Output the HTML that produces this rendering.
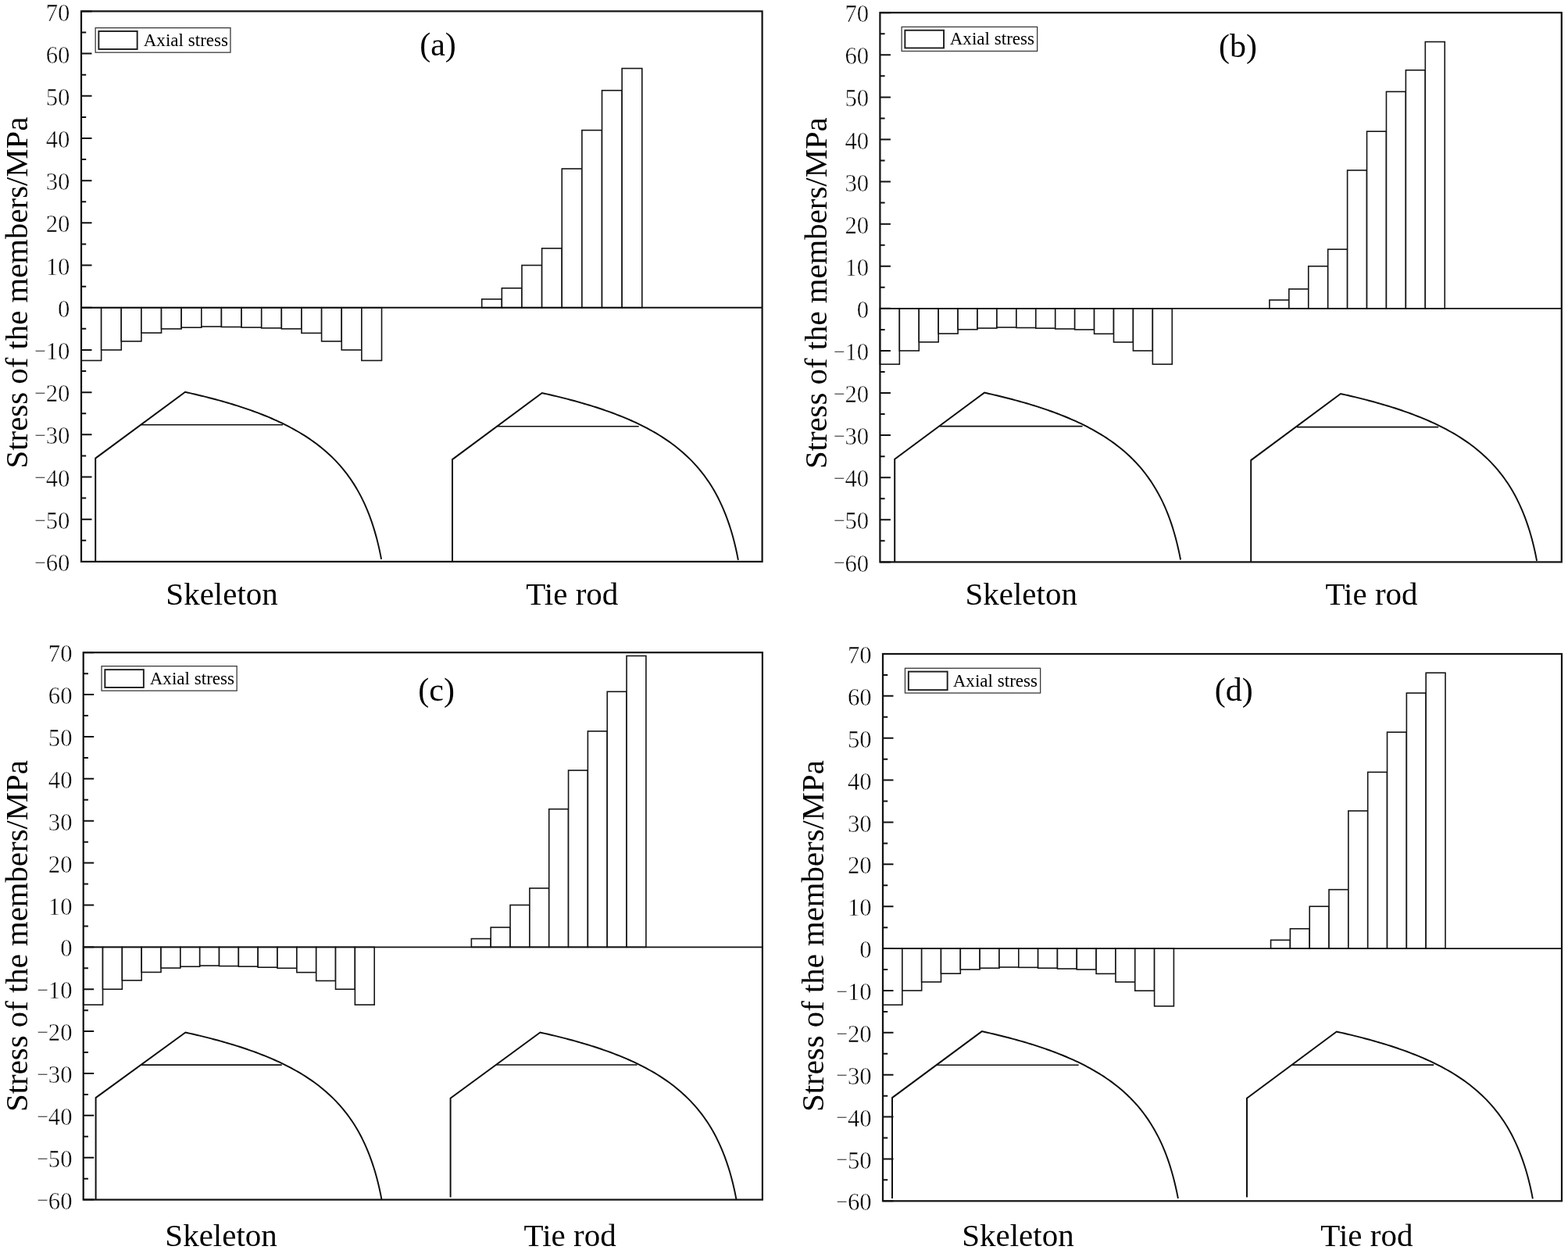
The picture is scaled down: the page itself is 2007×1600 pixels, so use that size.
<!DOCTYPE html>
<html><head><meta charset="utf-8"><title>Stress of the members</title>
<style>html,body{margin:0;padding:0;background:#fff;}svg{display:block;}text{font-family:"Liberation Serif", "Times New Roman", serif;fill:#000;}</style></head><body>
<svg width="2007" height="1600" viewBox="0 0 2007 1600">
<rect x="0" y="0" width="2007" height="1600" fill="#fff"/>
<g id="panel-a"><g fill="#fff" stroke="#151515" stroke-width="1.6"><rect x="104" y="393.75" width="25.64" height="67.74"/><rect x="129.64" y="393.75" width="25.64" height="54.19"/><rect x="155.27" y="393.75" width="25.64" height="43.08"/><rect x="180.91" y="393.75" width="25.64" height="32.35"/><rect x="206.54" y="393.75" width="25.64" height="27.2"/><rect x="232.18" y="393.75" width="25.64" height="25.47"/><rect x="257.81" y="393.75" width="25.64" height="24.28"/><rect x="283.45" y="393.75" width="25.64" height="24.77"/><rect x="309.08" y="393.75" width="25.64" height="25.36"/><rect x="334.72" y="393.75" width="25.64" height="26.17"/><rect x="360.35" y="393.75" width="25.64" height="27.15"/><rect x="385.99" y="393.75" width="25.64" height="32.62"/><rect x="411.62" y="393.75" width="25.64" height="43.08"/><rect x="437.26" y="393.75" width="25.64" height="54.19"/><rect x="462.89" y="393.75" width="25.64" height="67.74"/><rect x="616.71" y="382.91" width="25.64" height="10.84"/><rect x="642.34" y="368.82" width="25.64" height="24.93"/><rect x="667.98" y="339.55" width="25.64" height="54.19"/><rect x="693.61" y="317.88" width="25.64" height="75.87"/><rect x="719.25" y="216" width="25.64" height="177.75"/><rect x="744.88" y="166.68" width="25.64" height="227.07"/><rect x="770.52" y="115.74" width="25.64" height="278.01"/><rect x="796.15" y="87.56" width="25.64" height="306.19"/></g><g fill="none" stroke="#0d0d0d" stroke-width="1.95" stroke-linejoin="miter"><path d="M122.2,719 L122.2,586.6 L237,501.8 L240,502.49 L243,503.16 L246,503.84 L249,504.54 L252,505.24 L255,505.96 L258,506.68 L261,507.42 L264,508.17 L267,508.93 L270,509.71 L273,510.49 L276,511.29 L279,512.1 L282,512.93 L285,513.77 L288,514.63 L291,515.5 L294,516.38 L297,517.29 L300,518.2 L303,519.14 L306,520.1 L309,521.07 L312,522.06 L315,523.07 L318,524.1 L321,525.16 L324,526.23 L327,527.33 L330,528.45 L333,529.6 L336,530.77 L339,531.97 L342,533.19 L345,534.45 L348,535.73 L351,537.04 L354,538.39 L357,539.77 L360,541.19 L363,542.64 L366,544.13 L369,545.67 L372,547.24 L375,548.86 L378,550.53 L381,552.24 L384,554.01 L387,555.83 L390,557.7 L393,559.64 L396,561.64 L399,563.71 L402,565.85 L405,568.06 L408,570.36 L411,572.74 L414,575.21 L417,577.78 L420,580.45 L423,583.24 L426,586.14 L429,589.18 L432,592.35 L435,595.68 L438,599.17 L441,602.84 L444,606.71 L447,610.8 L450,615.12 L451.98,618.12 L453.88,621.12 L455.71,624.12 L457.47,627.12 L459.16,630.12 L460.78,633.12 L462.35,636.12 L463.85,639.12 L465.3,642.12 L466.7,645.12 L468.04,648.12 L469.33,651.12 L470.58,654.12 L471.78,657.12 L472.93,660.12 L474.04,663.12 L475.12,666.12 L476.15,669.12 L477.14,672.12 L478.1,675.12 L479.03,678.12 L479.92,681.12 L480.77,684.12 L481.6,687.12 L482.4,690.12 L483.16,693.12 L483.9,696.12 L484.61,699.12 L485.3,702.12 L485.96,705.12 L486.59,708.12 L487.2,711.12 L487.79,714.12 L488.09,715.7"/><path d="M180.9,543.8 H362" stroke-width="1.6"/><path d="M579,719 L579,588.1 L693.8,503 L696.8,503.69 L699.8,504.36 L702.8,505.04 L705.8,505.74 L708.8,506.44 L711.8,507.16 L714.8,507.88 L717.8,508.62 L720.8,509.37 L723.8,510.13 L726.8,510.91 L729.8,511.69 L732.8,512.49 L735.8,513.3 L738.8,514.13 L741.8,514.97 L744.8,515.83 L747.8,516.7 L750.8,517.58 L753.8,518.49 L756.8,519.4 L759.8,520.34 L762.8,521.3 L765.8,522.27 L768.8,523.26 L771.8,524.27 L774.8,525.3 L777.8,526.36 L780.8,527.43 L783.8,528.53 L786.8,529.65 L789.8,530.8 L792.8,531.97 L795.8,533.17 L798.8,534.39 L801.8,535.65 L804.8,536.93 L807.8,538.24 L810.8,539.59 L813.8,540.97 L816.8,542.39 L819.8,543.84 L822.8,545.33 L825.8,546.87 L828.8,548.44 L831.8,550.06 L834.8,551.73 L837.8,553.44 L840.8,555.21 L843.8,557.03 L846.8,558.9 L849.8,560.84 L852.8,562.84 L855.8,564.91 L858.8,567.05 L861.8,569.26 L864.8,571.56 L867.8,573.94 L870.8,576.41 L873.8,578.98 L876.8,581.65 L879.8,584.44 L882.8,587.34 L885.8,590.38 L888.8,593.55 L891.8,596.88 L894.8,600.37 L897.8,604.04 L900.8,607.91 L903.8,612 L906.8,616.32 L908.78,619.32 L910.68,622.32 L912.51,625.32 L914.27,628.32 L915.96,631.32 L917.58,634.32 L919.15,637.32 L920.65,640.32 L922.1,643.32 L923.5,646.32 L924.84,649.32 L926.13,652.32 L927.38,655.32 L928.58,658.32 L929.73,661.32 L930.84,664.32 L931.92,667.32 L932.95,670.32 L933.94,673.32 L934.9,676.32 L935.83,679.32 L936.72,682.32 L937.57,685.32 L938.4,688.32 L939.2,691.32 L939.96,694.32 L940.7,697.32 L941.41,700.32 L942.1,703.32 L942.76,706.32 L943.39,709.32 L944,712.32 L944.59,715.32 L944.89,716.9"/><path d="M636.9,545.8 H817.7" stroke-width="1.6"/></g><path d="M104,393.75 H975.6" stroke="#111" stroke-width="1.8" fill="none"/><path d="M104,718.9 h13.5 M104,691.8 h6.2 M104,664.71 h13.5 M104,637.61 h6.2 M104,610.52 h13.5 M104,583.42 h6.2 M104,556.32 h13.5 M104,529.23 h6.2 M104,502.13 h13.5 M104,475.03 h6.2 M104,447.94 h13.5 M104,420.84 h6.2 M104,393.75 h13.5 M104,366.65 h6.2 M104,339.55 h13.5 M104,312.46 h6.2 M104,285.36 h13.5 M104,258.27 h6.2 M104,231.17 h13.5 M104,204.07 h6.2 M104,176.98 h13.5 M104,149.88 h6.2 M104,122.78 h13.5 M104,95.69 h6.2 M104,68.59 h13.5 M104,41.5 h6.2 M104,14.4 h13.5" stroke="#111" stroke-width="2" fill="none"/><rect x="104" y="14.4" width="871.6" height="704.5" fill="none" stroke="#111" stroke-width="2.2"/><g font-size="31" stroke="#fff" stroke-width="0.45"><text transform="translate(89.4,731) scale(0.99,1)" text-anchor="end"><tspan font-size="26.5" dy="-2.3">−</tspan><tspan dx="-0.4" dy="2.3">60</tspan></text><text transform="translate(89.4,676.81) scale(0.99,1)" text-anchor="end"><tspan font-size="26.5" dy="-2.3">−</tspan><tspan dx="-0.4" dy="2.3">50</tspan></text><text transform="translate(89.4,622.62) scale(0.99,1)" text-anchor="end"><tspan font-size="26.5" dy="-2.3">−</tspan><tspan dx="-0.4" dy="2.3">40</tspan></text><text transform="translate(89.4,568.42) scale(0.99,1)" text-anchor="end"><tspan font-size="26.5" dy="-2.3">−</tspan><tspan dx="-0.4" dy="2.3">30</tspan></text><text transform="translate(89.4,514.23) scale(0.99,1)" text-anchor="end"><tspan font-size="26.5" dy="-2.3">−</tspan><tspan dx="-0.4" dy="2.3">20</tspan></text><text transform="translate(89.4,460.04) scale(0.99,1)" text-anchor="end"><tspan font-size="26.5" dy="-2.3">−</tspan><tspan dx="-0.4" dy="2.3">10</tspan></text><text transform="translate(89.4,405.85) scale(0.99,1)" text-anchor="end">0</text><text transform="translate(89.4,351.65) scale(0.99,1)" text-anchor="end">10</text><text transform="translate(89.4,297.46) scale(0.99,1)" text-anchor="end">20</text><text transform="translate(89.4,243.27) scale(0.99,1)" text-anchor="end">30</text><text transform="translate(89.4,189.08) scale(0.99,1)" text-anchor="end">40</text><text transform="translate(89.4,134.88) scale(0.99,1)" text-anchor="end">50</text><text transform="translate(89.4,80.69) scale(0.99,1)" text-anchor="end">60</text><text transform="translate(89.4,26.5) scale(0.99,1)" text-anchor="end">70</text></g><rect x="122.15" y="35.65" width="172.8" height="31.5" fill="#fff" stroke="#3a3a3a" stroke-width="1.3"/><rect x="126.35" y="39.95" width="49.3" height="23" fill="#fff" stroke="#1c1c1c" stroke-width="1.9"/><text x="183.7" y="59.4" font-size="23.1">Axial stress</text><text x="560.5" y="71" font-size="42" text-anchor="middle">(a)</text><text x="284.1" y="774.1" font-size="41" text-anchor="middle">Skeleton</text><text x="732.3" y="773.9" font-size="41" text-anchor="middle">Tie rod</text><text transform="translate(34.5,374.5) rotate(-90)" x="0" y="0" font-size="40.8" text-anchor="middle">Stress of the members/MPa</text></g>
<g id="panel-b"><g fill="#fff" stroke="#151515" stroke-width="1.6"><rect x="1126.4" y="394.85" width="24.93" height="71.4"/><rect x="1151.33" y="394.85" width="24.93" height="54.09"/><rect x="1176.25" y="394.85" width="24.93" height="43"/><rect x="1201.18" y="394.85" width="24.93" height="32.18"/><rect x="1226.1" y="394.85" width="24.93" height="26.88"/><rect x="1251.03" y="394.85" width="24.93" height="25.21"/><rect x="1275.95" y="394.85" width="24.93" height="24.18"/><rect x="1300.88" y="394.85" width="24.93" height="24.67"/><rect x="1325.81" y="394.85" width="24.93" height="25.32"/><rect x="1350.73" y="394.85" width="24.93" height="26.13"/><rect x="1375.66" y="394.85" width="24.93" height="27.05"/><rect x="1400.58" y="394.85" width="24.93" height="32.46"/><rect x="1425.51" y="394.85" width="24.93" height="43.11"/><rect x="1450.43" y="394.85" width="24.93" height="54.09"/><rect x="1475.36" y="394.85" width="24.93" height="71.4"/><rect x="1624.91" y="384.03" width="24.93" height="10.82"/><rect x="1649.84" y="369.96" width="24.93" height="24.88"/><rect x="1674.77" y="340.75" width="24.93" height="54.09"/><rect x="1699.69" y="319.12" width="24.93" height="75.73"/><rect x="1724.62" y="217.96" width="24.93" height="176.88"/><rect x="1749.54" y="168.2" width="24.93" height="226.65"/><rect x="1774.47" y="117.35" width="24.93" height="277.49"/><rect x="1799.39" y="89.77" width="24.93" height="305.08"/><rect x="1824.32" y="53.52" width="24.93" height="341.32"/></g><g fill="none" stroke="#0d0d0d" stroke-width="1.95" stroke-linejoin="miter"><path d="M1145.2,719.4 L1145.2,587.7 L1260,502.6 L1263,503.29 L1266,503.96 L1269,504.64 L1272,505.34 L1275,506.04 L1278,506.76 L1281,507.48 L1284,508.22 L1287,508.97 L1290,509.73 L1293,510.51 L1296,511.29 L1299,512.09 L1302,512.9 L1305,513.73 L1308,514.57 L1311,515.43 L1314,516.3 L1317,517.18 L1320,518.09 L1323,519 L1326,519.94 L1329,520.9 L1332,521.87 L1335,522.86 L1338,523.87 L1341,524.9 L1344,525.96 L1347,527.03 L1350,528.13 L1353,529.25 L1356,530.4 L1359,531.57 L1362,532.77 L1365,533.99 L1368,535.25 L1371,536.53 L1374,537.84 L1377,539.19 L1380,540.57 L1383,541.99 L1386,543.44 L1389,544.93 L1392,546.47 L1395,548.04 L1398,549.66 L1401,551.33 L1404,553.04 L1407,554.81 L1410,556.63 L1413,558.5 L1416,560.44 L1419,562.44 L1422,564.51 L1425,566.65 L1428,568.86 L1431,571.16 L1434,573.54 L1437,576.01 L1440,578.58 L1443,581.25 L1446,584.04 L1449,586.94 L1452,589.98 L1455,593.15 L1458,596.48 L1461,599.97 L1464,603.64 L1467,607.51 L1470,611.6 L1473,615.92 L1474.98,618.92 L1476.88,621.92 L1478.71,624.92 L1480.47,627.92 L1482.16,630.92 L1483.78,633.92 L1485.35,636.92 L1486.85,639.92 L1488.3,642.92 L1489.7,645.92 L1491.04,648.92 L1492.33,651.92 L1493.58,654.92 L1494.78,657.92 L1495.93,660.92 L1497.04,663.92 L1498.12,666.92 L1499.15,669.92 L1500.14,672.92 L1501.1,675.92 L1502.03,678.92 L1502.92,681.92 L1503.77,684.92 L1504.6,687.92 L1505.4,690.92 L1506.16,693.92 L1506.9,696.92 L1507.61,699.92 L1508.3,702.92 L1508.96,705.92 L1509.59,708.92 L1510.2,711.92 L1510.79,714.92 L1511.09,716.5"/><path d="M1203,545.6 H1385.6" stroke-width="1.6"/><path d="M1601.2,719.4 L1601.2,589.1 L1716,504 L1719,504.69 L1722,505.36 L1725,506.04 L1728,506.74 L1731,507.44 L1734,508.16 L1737,508.88 L1740,509.62 L1743,510.37 L1746,511.13 L1749,511.91 L1752,512.69 L1755,513.49 L1758,514.3 L1761,515.13 L1764,515.97 L1767,516.83 L1770,517.7 L1773,518.58 L1776,519.49 L1779,520.4 L1782,521.34 L1785,522.3 L1788,523.27 L1791,524.26 L1794,525.27 L1797,526.3 L1800,527.36 L1803,528.43 L1806,529.53 L1809,530.65 L1812,531.8 L1815,532.97 L1818,534.17 L1821,535.39 L1824,536.65 L1827,537.93 L1830,539.24 L1833,540.59 L1836,541.97 L1839,543.39 L1842,544.84 L1845,546.33 L1848,547.87 L1851,549.44 L1854,551.06 L1857,552.73 L1860,554.44 L1863,556.21 L1866,558.03 L1869,559.9 L1872,561.84 L1875,563.84 L1878,565.91 L1881,568.05 L1884,570.26 L1887,572.56 L1890,574.94 L1893,577.41 L1896,579.98 L1899,582.65 L1902,585.44 L1905,588.34 L1908,591.38 L1911,594.55 L1914,597.88 L1917,601.37 L1920,605.04 L1923,608.91 L1926,613 L1929,617.32 L1930.98,620.32 L1932.88,623.32 L1934.71,626.32 L1936.47,629.32 L1938.16,632.32 L1939.78,635.32 L1941.35,638.32 L1942.85,641.32 L1944.3,644.32 L1945.7,647.32 L1947.04,650.32 L1948.33,653.32 L1949.58,656.32 L1950.78,659.32 L1951.93,662.32 L1953.04,665.32 L1954.12,668.32 L1955.15,671.32 L1956.14,674.32 L1957.1,677.32 L1958.03,680.32 L1958.92,683.32 L1959.77,686.32 L1960.6,689.32 L1961.4,692.32 L1962.16,695.32 L1962.9,698.32 L1963.61,701.32 L1964.3,704.32 L1964.96,707.32 L1965.59,710.32 L1966.2,713.32 L1966.79,716.32 L1967.09,717.9"/><path d="M1659.9,546.6 H1841.2" stroke-width="1.6"/></g><path d="M1126.4,394.85 H1998.8" stroke="#111" stroke-width="1.8" fill="none"/><path d="M1126.4,719.4 h13.5 M1126.4,692.35 h6.2 M1126.4,665.31 h13.5 M1126.4,638.26 h6.2 M1126.4,611.22 h13.5 M1126.4,584.17 h6.2 M1126.4,557.12 h13.5 M1126.4,530.08 h6.2 M1126.4,503.03 h13.5 M1126.4,475.98 h6.2 M1126.4,448.94 h13.5 M1126.4,421.89 h6.2 M1126.4,394.85 h13.5 M1126.4,367.8 h6.2 M1126.4,340.75 h13.5 M1126.4,313.71 h6.2 M1126.4,286.66 h13.5 M1126.4,259.62 h6.2 M1126.4,232.57 h13.5 M1126.4,205.52 h6.2 M1126.4,178.48 h13.5 M1126.4,151.43 h6.2 M1126.4,124.38 h13.5 M1126.4,97.34 h6.2 M1126.4,70.29 h13.5 M1126.4,43.25 h6.2 M1126.4,16.2 h13.5" stroke="#111" stroke-width="2" fill="none"/><rect x="1126.4" y="16.2" width="872.4" height="703.2" fill="none" stroke="#111" stroke-width="2.2"/><g font-size="31" stroke="#fff" stroke-width="0.45"><text transform="translate(1112.1,731.5) scale(0.99,1)" text-anchor="end"><tspan font-size="26.5" dy="-2.3">−</tspan><tspan dx="-0.4" dy="2.3">60</tspan></text><text transform="translate(1112.1,677.41) scale(0.99,1)" text-anchor="end"><tspan font-size="26.5" dy="-2.3">−</tspan><tspan dx="-0.4" dy="2.3">50</tspan></text><text transform="translate(1112.1,623.32) scale(0.99,1)" text-anchor="end"><tspan font-size="26.5" dy="-2.3">−</tspan><tspan dx="-0.4" dy="2.3">40</tspan></text><text transform="translate(1112.1,569.22) scale(0.99,1)" text-anchor="end"><tspan font-size="26.5" dy="-2.3">−</tspan><tspan dx="-0.4" dy="2.3">30</tspan></text><text transform="translate(1112.1,515.13) scale(0.99,1)" text-anchor="end"><tspan font-size="26.5" dy="-2.3">−</tspan><tspan dx="-0.4" dy="2.3">20</tspan></text><text transform="translate(1112.1,461.04) scale(0.99,1)" text-anchor="end"><tspan font-size="26.5" dy="-2.3">−</tspan><tspan dx="-0.4" dy="2.3">10</tspan></text><text transform="translate(1112.1,406.95) scale(0.99,1)" text-anchor="end">0</text><text transform="translate(1112.1,352.85) scale(0.99,1)" text-anchor="end">10</text><text transform="translate(1112.1,298.76) scale(0.99,1)" text-anchor="end">20</text><text transform="translate(1112.1,244.67) scale(0.99,1)" text-anchor="end">30</text><text transform="translate(1112.1,190.58) scale(0.99,1)" text-anchor="end">40</text><text transform="translate(1112.1,136.48) scale(0.99,1)" text-anchor="end">50</text><text transform="translate(1112.1,82.39) scale(0.99,1)" text-anchor="end">60</text><text transform="translate(1112.1,28.3) scale(0.99,1)" text-anchor="end">70</text></g><rect x="1154.15" y="34.45" width="173.5" height="31" fill="#fff" stroke="#3a3a3a" stroke-width="1.3"/><rect x="1158.35" y="38.75" width="49.7" height="22.7" fill="#fff" stroke="#1c1c1c" stroke-width="1.9"/><text x="1215.7" y="57.4" font-size="23.1">Axial stress</text><text x="1584.4" y="72.9" font-size="42" text-anchor="middle">(b)</text><text x="1307.2" y="774.1" font-size="41" text-anchor="middle">Skeleton</text><text x="1755.5" y="773.9" font-size="41" text-anchor="middle">Tie rod</text><text transform="translate(1057.5,375.2) rotate(-90)" x="0" y="0" font-size="40.8" text-anchor="middle">Stress of the members/MPa</text></g>
<g id="panel-c"><g fill="#fff" stroke="#151515" stroke-width="1.6"><rect x="106.7" y="1212.34" width="24.83" height="73.81"/><rect x="131.53" y="1212.34" width="24.83" height="53.88"/><rect x="156.37" y="1212.34" width="24.83" height="42.56"/><rect x="181.2" y="1212.34" width="24.83" height="32.11"/><rect x="206.04" y="1212.34" width="24.83" height="26.72"/><rect x="230.87" y="1212.34" width="24.83" height="24.89"/><rect x="255.71" y="1212.34" width="24.83" height="23.71"/><rect x="280.54" y="1212.34" width="24.83" height="24.24"/><rect x="305.37" y="1212.34" width="24.83" height="24.78"/><rect x="330.21" y="1212.34" width="24.83" height="25.86"/><rect x="355.04" y="1212.34" width="24.83" height="26.94"/><rect x="379.88" y="1212.34" width="24.83" height="32.33"/><rect x="404.71" y="1212.34" width="24.83" height="43.1"/><rect x="429.55" y="1212.34" width="24.83" height="53.88"/><rect x="454.38" y="1212.34" width="24.83" height="73.81"/><rect x="603.39" y="1201.56" width="24.83" height="10.78"/><rect x="628.22" y="1187.02" width="24.83" height="25.32"/><rect x="653.05" y="1158.46" width="24.83" height="53.88"/><rect x="677.89" y="1136.91" width="24.83" height="75.43"/><rect x="702.72" y="1035.62" width="24.83" height="176.72"/><rect x="727.56" y="986.06" width="24.83" height="226.28"/><rect x="752.39" y="935.95" width="24.83" height="276.39"/><rect x="777.23" y="885.31" width="24.83" height="327.03"/><rect x="802.06" y="839.51" width="24.83" height="372.83"/></g><g fill="none" stroke="#0d0d0d" stroke-width="1.95" stroke-linejoin="miter"><path d="M122.6,1535.6 L122.6,1405.1 L237.4,1321.5 L240.4,1322.19 L243.4,1322.86 L246.4,1323.54 L249.4,1324.24 L252.4,1324.94 L255.4,1325.66 L258.4,1326.38 L261.4,1327.12 L264.4,1327.87 L267.4,1328.63 L270.4,1329.41 L273.4,1330.19 L276.4,1330.99 L279.4,1331.8 L282.4,1332.63 L285.4,1333.47 L288.4,1334.33 L291.4,1335.2 L294.4,1336.08 L297.4,1336.99 L300.4,1337.9 L303.4,1338.84 L306.4,1339.8 L309.4,1340.77 L312.4,1341.76 L315.4,1342.77 L318.4,1343.8 L321.4,1344.86 L324.4,1345.93 L327.4,1347.03 L330.4,1348.15 L333.4,1349.3 L336.4,1350.47 L339.4,1351.67 L342.4,1352.89 L345.4,1354.15 L348.4,1355.43 L351.4,1356.74 L354.4,1358.09 L357.4,1359.47 L360.4,1360.89 L363.4,1362.34 L366.4,1363.83 L369.4,1365.37 L372.4,1366.94 L375.4,1368.56 L378.4,1370.23 L381.4,1371.94 L384.4,1373.71 L387.4,1375.53 L390.4,1377.4 L393.4,1379.34 L396.4,1381.34 L399.4,1383.41 L402.4,1385.55 L405.4,1387.76 L408.4,1390.06 L411.4,1392.44 L414.4,1394.91 L417.4,1397.48 L420.4,1400.15 L423.4,1402.94 L426.4,1405.84 L429.4,1408.88 L432.4,1412.05 L435.4,1415.38 L438.4,1418.87 L441.4,1422.54 L444.4,1426.41 L447.4,1430.5 L450.4,1434.82 L452.38,1437.82 L454.28,1440.82 L456.11,1443.82 L457.87,1446.82 L459.56,1449.82 L461.18,1452.82 L462.75,1455.82 L464.25,1458.82 L465.7,1461.82 L467.1,1464.82 L468.44,1467.82 L469.73,1470.82 L470.98,1473.82 L472.18,1476.82 L473.33,1479.82 L474.44,1482.82 L475.52,1485.82 L476.55,1488.82 L477.54,1491.82 L478.5,1494.82 L479.43,1497.82 L480.32,1500.82 L481.17,1503.82 L482,1506.82 L482.8,1509.82 L483.56,1512.82 L484.3,1515.82 L485.01,1518.82 L485.7,1521.82 L486.36,1524.82 L486.99,1527.82 L487.6,1530.82 L488.19,1533.82 L488.49,1535.4"/><path d="M180,1363.1 H360.7" stroke-width="1.6"/><path d="M576.6,1532.4 L576.6,1405.7 L691.4,1321.5 L694.4,1322.19 L697.4,1322.86 L700.4,1323.54 L703.4,1324.24 L706.4,1324.94 L709.4,1325.66 L712.4,1326.38 L715.4,1327.12 L718.4,1327.87 L721.4,1328.63 L724.4,1329.41 L727.4,1330.19 L730.4,1330.99 L733.4,1331.8 L736.4,1332.63 L739.4,1333.47 L742.4,1334.33 L745.4,1335.2 L748.4,1336.08 L751.4,1336.99 L754.4,1337.9 L757.4,1338.84 L760.4,1339.8 L763.4,1340.77 L766.4,1341.76 L769.4,1342.77 L772.4,1343.8 L775.4,1344.86 L778.4,1345.93 L781.4,1347.03 L784.4,1348.15 L787.4,1349.3 L790.4,1350.47 L793.4,1351.67 L796.4,1352.89 L799.4,1354.15 L802.4,1355.43 L805.4,1356.74 L808.4,1358.09 L811.4,1359.47 L814.4,1360.89 L817.4,1362.34 L820.4,1363.83 L823.4,1365.37 L826.4,1366.94 L829.4,1368.56 L832.4,1370.23 L835.4,1371.94 L838.4,1373.71 L841.4,1375.53 L844.4,1377.4 L847.4,1379.34 L850.4,1381.34 L853.4,1383.41 L856.4,1385.55 L859.4,1387.76 L862.4,1390.06 L865.4,1392.44 L868.4,1394.91 L871.4,1397.48 L874.4,1400.15 L877.4,1402.94 L880.4,1405.84 L883.4,1408.88 L886.4,1412.05 L889.4,1415.38 L892.4,1418.87 L895.4,1422.54 L898.4,1426.41 L901.4,1430.5 L904.4,1434.82 L906.38,1437.82 L908.28,1440.82 L910.11,1443.82 L911.87,1446.82 L913.56,1449.82 L915.18,1452.82 L916.75,1455.82 L918.25,1458.82 L919.7,1461.82 L921.1,1464.82 L922.44,1467.82 L923.73,1470.82 L924.98,1473.82 L926.18,1476.82 L927.33,1479.82 L928.44,1482.82 L929.52,1485.82 L930.55,1488.82 L931.54,1491.82 L932.5,1494.82 L933.43,1497.82 L934.32,1500.82 L935.17,1503.82 L936,1506.82 L936.8,1509.82 L937.56,1512.82 L938.3,1515.82 L939.01,1518.82 L939.7,1521.82 L940.36,1524.82 L940.99,1527.82 L941.6,1530.82 L942.19,1533.82 L942.49,1535.4"/><path d="M634.9,1363 H815.6" stroke-width="1.6"/></g><path d="M106.7,1212.34 H975.9" stroke="#111" stroke-width="1.8" fill="none"/><path d="M106.7,1535.6 h13.5 M106.7,1508.66 h6.2 M106.7,1481.72 h13.5 M106.7,1454.78 h6.2 M106.7,1427.85 h13.5 M106.7,1400.91 h6.2 M106.7,1373.97 h13.5 M106.7,1347.03 h6.2 M106.7,1320.09 h13.5 M106.7,1293.15 h6.2 M106.7,1266.22 h13.5 M106.7,1239.28 h6.2 M106.7,1212.34 h13.5 M106.7,1185.4 h6.2 M106.7,1158.46 h13.5 M106.7,1131.52 h6.2 M106.7,1104.58 h13.5 M106.7,1077.65 h6.2 M106.7,1050.71 h13.5 M106.7,1023.77 h6.2 M106.7,996.83 h13.5 M106.7,969.89 h6.2 M106.7,942.95 h13.5 M106.7,916.02 h6.2 M106.7,889.08 h13.5 M106.7,862.14 h6.2 M106.7,835.2 h13.5" stroke="#111" stroke-width="2" fill="none"/><rect x="106.7" y="835.2" width="869.2" height="700.4" fill="none" stroke="#111" stroke-width="2.2"/><g font-size="31" stroke="#fff" stroke-width="0.45"><text transform="translate(92.5,1547.7) scale(0.99,1)" text-anchor="end"><tspan font-size="26.5" dy="-2.3">−</tspan><tspan dx="-0.4" dy="2.3">60</tspan></text><text transform="translate(92.5,1493.82) scale(0.99,1)" text-anchor="end"><tspan font-size="26.5" dy="-2.3">−</tspan><tspan dx="-0.4" dy="2.3">50</tspan></text><text transform="translate(92.5,1439.95) scale(0.99,1)" text-anchor="end"><tspan font-size="26.5" dy="-2.3">−</tspan><tspan dx="-0.4" dy="2.3">40</tspan></text><text transform="translate(92.5,1386.07) scale(0.99,1)" text-anchor="end"><tspan font-size="26.5" dy="-2.3">−</tspan><tspan dx="-0.4" dy="2.3">30</tspan></text><text transform="translate(92.5,1332.19) scale(0.99,1)" text-anchor="end"><tspan font-size="26.5" dy="-2.3">−</tspan><tspan dx="-0.4" dy="2.3">20</tspan></text><text transform="translate(92.5,1278.32) scale(0.99,1)" text-anchor="end"><tspan font-size="26.5" dy="-2.3">−</tspan><tspan dx="-0.4" dy="2.3">10</tspan></text><text transform="translate(92.5,1224.44) scale(0.99,1)" text-anchor="end">0</text><text transform="translate(92.5,1170.56) scale(0.99,1)" text-anchor="end">10</text><text transform="translate(92.5,1116.68) scale(0.99,1)" text-anchor="end">20</text><text transform="translate(92.5,1062.81) scale(0.99,1)" text-anchor="end">30</text><text transform="translate(92.5,1008.93) scale(0.99,1)" text-anchor="end">40</text><text transform="translate(92.5,955.05) scale(0.99,1)" text-anchor="end">50</text><text transform="translate(92.5,901.18) scale(0.99,1)" text-anchor="end">60</text><text transform="translate(92.5,847.3) scale(0.99,1)" text-anchor="end">70</text></g><rect x="130.05" y="852.65" width="173.1" height="31.5" fill="#fff" stroke="#3a3a3a" stroke-width="1.3"/><rect x="134.35" y="857.15" width="49.5" height="22.8" fill="#fff" stroke="#1c1c1c" stroke-width="1.9"/><text x="191.7" y="876.4" font-size="23.1">Axial stress</text><text x="558.6" y="897" font-size="42" text-anchor="middle">(c)</text><text x="283.1" y="1595.2" font-size="41" text-anchor="middle">Skeleton</text><text x="729.6" y="1595.3" font-size="41" text-anchor="middle">Tie rod</text><text transform="translate(34.5,1198) rotate(-90)" x="0" y="0" font-size="40.8" text-anchor="middle">Stress of the members/MPa</text></g>
<g id="panel-d"><g fill="#fff" stroke="#151515" stroke-width="1.6"><rect x="1130" y="1214.08" width="24.83" height="72.18"/><rect x="1154.83" y="1214.08" width="24.83" height="53.87"/><rect x="1179.66" y="1214.08" width="24.83" height="42.83"/><rect x="1204.49" y="1214.08" width="24.83" height="32.11"/><rect x="1229.31" y="1214.08" width="24.83" height="26.88"/><rect x="1254.14" y="1214.08" width="24.83" height="25.1"/><rect x="1278.97" y="1214.08" width="24.83" height="23.92"/><rect x="1303.8" y="1214.08" width="24.83" height="24.24"/><rect x="1328.63" y="1214.08" width="24.83" height="25.1"/><rect x="1353.46" y="1214.08" width="24.83" height="25.91"/><rect x="1378.29" y="1214.08" width="24.83" height="26.88"/><rect x="1403.11" y="1214.08" width="24.83" height="32.32"/><rect x="1427.94" y="1214.08" width="24.83" height="42.88"/><rect x="1452.77" y="1214.08" width="24.83" height="54.08"/><rect x="1477.6" y="1214.08" width="24.83" height="73.8"/><rect x="1626.57" y="1203.31" width="24.83" height="10.77"/><rect x="1651.4" y="1188.77" width="24.83" height="25.32"/><rect x="1676.23" y="1160.22" width="24.83" height="53.87"/><rect x="1701.06" y="1138.67" width="24.83" height="75.42"/><rect x="1725.89" y="1037.93" width="24.83" height="176.15"/><rect x="1750.71" y="988.37" width="24.83" height="225.71"/><rect x="1775.54" y="937.2" width="24.83" height="276.89"/><rect x="1800.37" y="887.1" width="24.83" height="326.99"/><rect x="1825.2" y="861.24" width="24.83" height="352.84"/></g><g fill="none" stroke="#0d0d0d" stroke-width="1.95" stroke-linejoin="miter"><path d="M1142,1533.9 L1142,1405.1 L1256.8,1320.1 L1259.8,1320.79 L1262.8,1321.46 L1265.8,1322.14 L1268.8,1322.84 L1271.8,1323.54 L1274.8,1324.26 L1277.8,1324.98 L1280.8,1325.72 L1283.8,1326.47 L1286.8,1327.23 L1289.8,1328.01 L1292.8,1328.79 L1295.8,1329.59 L1298.8,1330.4 L1301.8,1331.23 L1304.8,1332.07 L1307.8,1332.93 L1310.8,1333.8 L1313.8,1334.68 L1316.8,1335.59 L1319.8,1336.5 L1322.8,1337.44 L1325.8,1338.4 L1328.8,1339.37 L1331.8,1340.36 L1334.8,1341.37 L1337.8,1342.4 L1340.8,1343.46 L1343.8,1344.53 L1346.8,1345.63 L1349.8,1346.75 L1352.8,1347.9 L1355.8,1349.07 L1358.8,1350.27 L1361.8,1351.49 L1364.8,1352.75 L1367.8,1354.03 L1370.8,1355.34 L1373.8,1356.69 L1376.8,1358.07 L1379.8,1359.49 L1382.8,1360.94 L1385.8,1362.43 L1388.8,1363.97 L1391.8,1365.54 L1394.8,1367.16 L1397.8,1368.83 L1400.8,1370.54 L1403.8,1372.31 L1406.8,1374.13 L1409.8,1376 L1412.8,1377.94 L1415.8,1379.94 L1418.8,1382.01 L1421.8,1384.15 L1424.8,1386.36 L1427.8,1388.66 L1430.8,1391.04 L1433.8,1393.51 L1436.8,1396.08 L1439.8,1398.75 L1442.8,1401.54 L1445.8,1404.44 L1448.8,1407.48 L1451.8,1410.65 L1454.8,1413.98 L1457.8,1417.47 L1460.8,1421.14 L1463.8,1425.01 L1466.8,1429.1 L1469.8,1433.42 L1471.78,1436.42 L1473.68,1439.42 L1475.51,1442.42 L1477.27,1445.42 L1478.96,1448.42 L1480.58,1451.42 L1482.15,1454.42 L1483.65,1457.42 L1485.1,1460.42 L1486.5,1463.42 L1487.84,1466.42 L1489.13,1469.42 L1490.38,1472.42 L1491.58,1475.42 L1492.73,1478.42 L1493.84,1481.42 L1494.92,1484.42 L1495.95,1487.42 L1496.94,1490.42 L1497.9,1493.42 L1498.83,1496.42 L1499.72,1499.42 L1500.57,1502.42 L1501.4,1505.42 L1502.2,1508.42 L1502.96,1511.42 L1503.7,1514.42 L1504.41,1517.42 L1505.1,1520.42 L1505.76,1523.42 L1506.39,1526.42 L1507,1529.42 L1507.59,1532.42 L1507.89,1534"/><path d="M1198.7,1363.2 H1380.7" stroke-width="1.6"/><path d="M1596,1532.4 L1596,1405.7 L1710.8,1320.5 L1713.8,1321.19 L1716.8,1321.86 L1719.8,1322.54 L1722.8,1323.24 L1725.8,1323.94 L1728.8,1324.66 L1731.8,1325.38 L1734.8,1326.12 L1737.8,1326.87 L1740.8,1327.63 L1743.8,1328.41 L1746.8,1329.19 L1749.8,1329.99 L1752.8,1330.8 L1755.8,1331.63 L1758.8,1332.47 L1761.8,1333.33 L1764.8,1334.2 L1767.8,1335.08 L1770.8,1335.99 L1773.8,1336.9 L1776.8,1337.84 L1779.8,1338.8 L1782.8,1339.77 L1785.8,1340.76 L1788.8,1341.77 L1791.8,1342.8 L1794.8,1343.86 L1797.8,1344.93 L1800.8,1346.03 L1803.8,1347.15 L1806.8,1348.3 L1809.8,1349.47 L1812.8,1350.67 L1815.8,1351.89 L1818.8,1353.15 L1821.8,1354.43 L1824.8,1355.74 L1827.8,1357.09 L1830.8,1358.47 L1833.8,1359.89 L1836.8,1361.34 L1839.8,1362.83 L1842.8,1364.37 L1845.8,1365.94 L1848.8,1367.56 L1851.8,1369.23 L1854.8,1370.94 L1857.8,1372.71 L1860.8,1374.53 L1863.8,1376.4 L1866.8,1378.34 L1869.8,1380.34 L1872.8,1382.41 L1875.8,1384.55 L1878.8,1386.76 L1881.8,1389.06 L1884.8,1391.44 L1887.8,1393.91 L1890.8,1396.48 L1893.8,1399.15 L1896.8,1401.94 L1899.8,1404.84 L1902.8,1407.88 L1905.8,1411.05 L1908.8,1414.38 L1911.8,1417.87 L1914.8,1421.54 L1917.8,1425.41 L1920.8,1429.5 L1923.8,1433.82 L1925.78,1436.82 L1927.68,1439.82 L1929.51,1442.82 L1931.27,1445.82 L1932.96,1448.82 L1934.58,1451.82 L1936.15,1454.82 L1937.65,1457.82 L1939.1,1460.82 L1940.5,1463.82 L1941.84,1466.82 L1943.13,1469.82 L1944.38,1472.82 L1945.58,1475.82 L1946.73,1478.82 L1947.84,1481.82 L1948.92,1484.82 L1949.95,1487.82 L1950.94,1490.82 L1951.9,1493.82 L1952.83,1496.82 L1953.72,1499.82 L1954.57,1502.82 L1955.4,1505.82 L1956.2,1508.82 L1956.96,1511.82 L1957.7,1514.82 L1958.41,1517.82 L1959.1,1520.82 L1959.76,1523.82 L1960.39,1526.82 L1961,1529.82 L1961.59,1532.82 L1961.89,1534.4"/><path d="M1653.9,1363.1 H1835.2" stroke-width="1.6"/></g><path d="M1130,1214.08 H1999" stroke="#111" stroke-width="1.8" fill="none"/><path d="M1130,1537.3 h13.5 M1130,1510.37 h6.2 M1130,1483.43 h13.5 M1130,1456.5 h6.2 M1130,1429.56 h13.5 M1130,1402.63 h6.2 M1130,1375.69 h13.5 M1130,1348.76 h6.2 M1130,1321.82 h13.5 M1130,1294.89 h6.2 M1130,1267.95 h13.5 M1130,1241.02 h6.2 M1130,1214.08 h13.5 M1130,1187.15 h6.2 M1130,1160.22 h13.5 M1130,1133.28 h6.2 M1130,1106.35 h13.5 M1130,1079.41 h6.2 M1130,1052.48 h13.5 M1130,1025.54 h6.2 M1130,998.61 h13.5 M1130,971.67 h6.2 M1130,944.74 h13.5 M1130,917.8 h6.2 M1130,890.87 h13.5 M1130,863.93 h6.2 M1130,837 h13.5" stroke="#111" stroke-width="2" fill="none"/><rect x="1130" y="837" width="869" height="700.3" fill="none" stroke="#111" stroke-width="2.2"/><g font-size="31" stroke="#fff" stroke-width="0.45"><text transform="translate(1115.6,1549.4) scale(0.99,1)" text-anchor="end"><tspan font-size="26.5" dy="-2.3">−</tspan><tspan dx="-0.4" dy="2.3">60</tspan></text><text transform="translate(1115.6,1495.53) scale(0.99,1)" text-anchor="end"><tspan font-size="26.5" dy="-2.3">−</tspan><tspan dx="-0.4" dy="2.3">50</tspan></text><text transform="translate(1115.6,1441.66) scale(0.99,1)" text-anchor="end"><tspan font-size="26.5" dy="-2.3">−</tspan><tspan dx="-0.4" dy="2.3">40</tspan></text><text transform="translate(1115.6,1387.79) scale(0.99,1)" text-anchor="end"><tspan font-size="26.5" dy="-2.3">−</tspan><tspan dx="-0.4" dy="2.3">30</tspan></text><text transform="translate(1115.6,1333.92) scale(0.99,1)" text-anchor="end"><tspan font-size="26.5" dy="-2.3">−</tspan><tspan dx="-0.4" dy="2.3">20</tspan></text><text transform="translate(1115.6,1280.05) scale(0.99,1)" text-anchor="end"><tspan font-size="26.5" dy="-2.3">−</tspan><tspan dx="-0.4" dy="2.3">10</tspan></text><text transform="translate(1115.6,1226.18) scale(0.99,1)" text-anchor="end">0</text><text transform="translate(1115.6,1172.32) scale(0.99,1)" text-anchor="end">10</text><text transform="translate(1115.6,1118.45) scale(0.99,1)" text-anchor="end">20</text><text transform="translate(1115.6,1064.58) scale(0.99,1)" text-anchor="end">30</text><text transform="translate(1115.6,1010.71) scale(0.99,1)" text-anchor="end">40</text><text transform="translate(1115.6,956.84) scale(0.99,1)" text-anchor="end">50</text><text transform="translate(1115.6,902.97) scale(0.99,1)" text-anchor="end">60</text><text transform="translate(1115.6,849.1) scale(0.99,1)" text-anchor="end">70</text></g><rect x="1158.45" y="855.35" width="173.2" height="31.7" fill="#fff" stroke="#3a3a3a" stroke-width="1.3"/><rect x="1162.85" y="859.65" width="49.8" height="23.5" fill="#fff" stroke="#1c1c1c" stroke-width="1.9"/><text x="1219.7" y="879.4" font-size="23.1">Axial stress</text><text x="1579.3" y="897" font-size="42" text-anchor="middle">(d)</text><text x="1302.9" y="1595.2" font-size="41" text-anchor="middle">Skeleton</text><text x="1749.4" y="1595.3" font-size="41" text-anchor="middle">Tie rod</text><text transform="translate(1054.1,1198) rotate(-90)" x="0" y="0" font-size="40.8" text-anchor="middle">Stress of the members/MPa</text></g>
</svg></body></html>
